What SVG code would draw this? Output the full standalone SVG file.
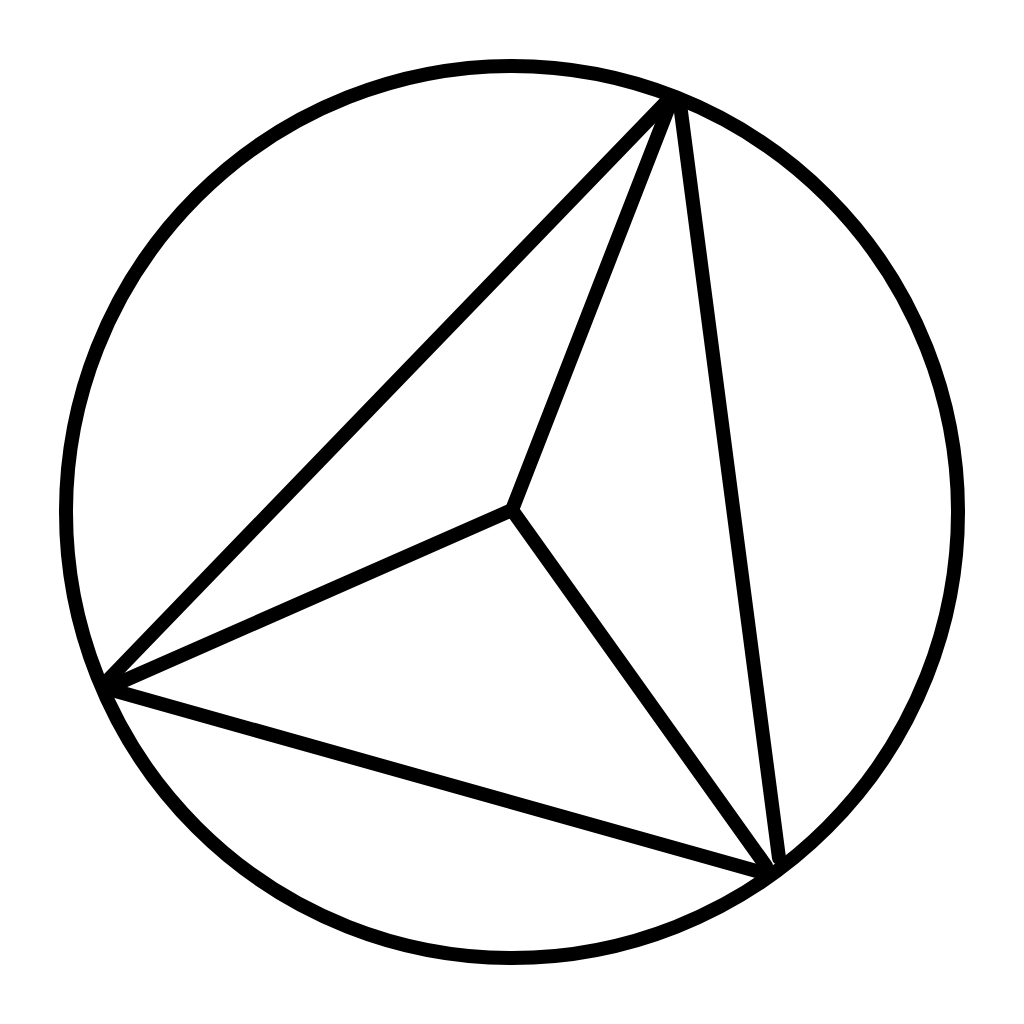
<svg xmlns="http://www.w3.org/2000/svg" width="1024" height="1024" viewBox="0 0 1024 1024">
<style>
.s{fill:none;stroke:#000;stroke-width:14;stroke-linecap:round;stroke-linejoin:round}
</style>
<rect width="1024" height="1024" fill="#fff"/>
<g id="circle"><circle class="s" cx="512" cy="512" r="446"/></g>
<g id="connectors">
<line class="s" x1="108" y1="680" x2="666" y2="102"/>
<line class="s" x1="680" y1="104" x2="779" y2="858"/>
<line class="s" x1="112" y1="690" x2="760" y2="872"/>
<line class="s" x1="670" y1="104" x2="512" y2="510"/>
<line class="s" x1="512" y1="510" x2="112" y2="686"/>
<line class="s" x1="512" y1="510" x2="766" y2="866"/>
</g>
</svg>
